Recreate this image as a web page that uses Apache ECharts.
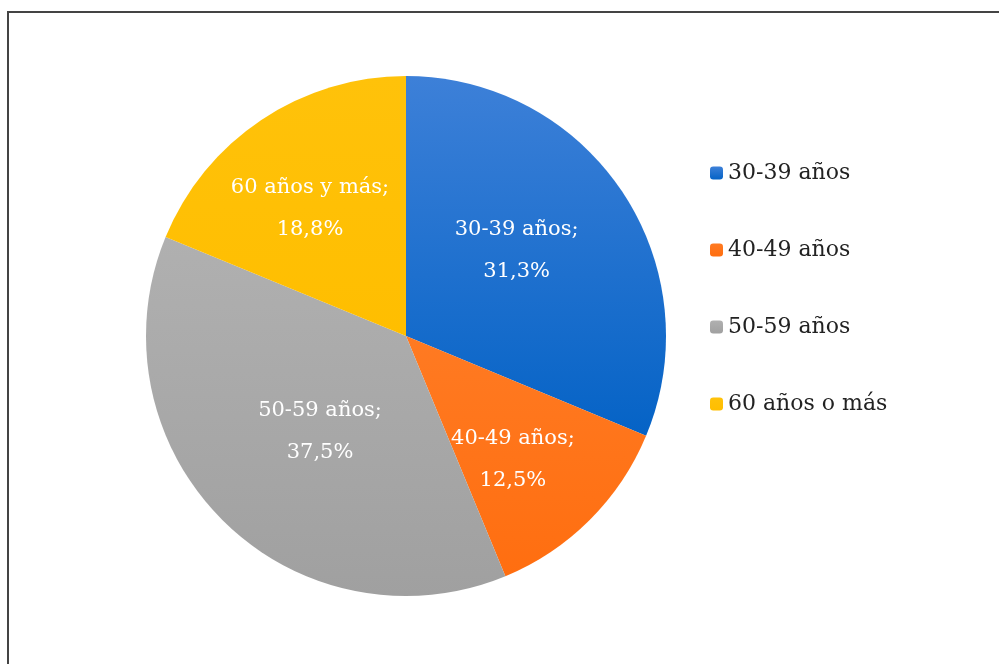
<!DOCTYPE html>
<html>
<head>
<meta charset="utf-8">
<script src="https://cdn.jsdelivr.net/npm/echarts@6/dist/echarts.min.js"></script>
<style>
html,body{margin:0;padding:0;background:#fff;}
#c{width:999px;height:664px;}
</style>
</head>
<body>
<div id="c"></div>
<script>
const categories = ['30-39 años', '40-49 años', '50-59 años', '60 años o más'];
const sliceLabels = ['30-39 años', '40-49 años', '50-59 años', '60 años y más'];
const values = [31.3, 12.5, 37.5, 18.8];
const colorsTop = ['#3d80d8', '#ff7a22', '#b0b0b0', '#ffc20a'];
const colorsBottom = ['#0563c6', '#ff6e10', '#a0a0a0', '#ffbe00'];
const labelOffsets = [[0, -12], [13, 29], [8, 1], [-22, -17]];

const chart = echarts.init(document.getElementById('c'));
const font = '"DejaVu Serif", "Liberation Serif", serif';

chart.setOption({
  backgroundColor: '#fff',
  animation: false,
  graphic: [{
    type: 'rect',
    shape: { x: 8, y: 12, width: 1100, height: 800 },
    style: { fill: 'none', stroke: '#444', lineWidth: 2 },
    silent: true
  }],
  legend: {
    orient: 'vertical',
    left: 705,
    top: 157,
    itemWidth: 13,
    itemHeight: 13,
    itemGap: 55,
    icon: 'roundRect',
    data: categories,
    textStyle: { fontFamily: font, fontSize: 22, color: '#222' }
  },
  series: [{
    type: 'pie',
    center: [406, 336],
    radius: 260,
    startAngle: 90,
    clockwise: true,
    label: {
      show: true,
      position: 'inside',
      color: '#fff',
      fontFamily: font,
      fontSize: 21,
      lineHeight: 42,
      formatter: p => sliceLabels[p.dataIndex] + ';\n' + p.value.toFixed(1).replace('.', ',') + '%'
    },
    labelLine: { show: false },
    itemStyle: { borderWidth: 0 },
    emphasis: { disabled: true },
    data: categories.map((c, i) => ({
      name: c,
      value: values[i],
      label: { offset: labelOffsets[i] },
      itemStyle: {
        color: new echarts.graphic.LinearGradient(0, 0, 0, 1, [
          { offset: 0, color: colorsTop[i] },
          { offset: 1, color: colorsBottom[i] }
        ])
      }
    }))
  }]
});
</script>
</body>
</html>
